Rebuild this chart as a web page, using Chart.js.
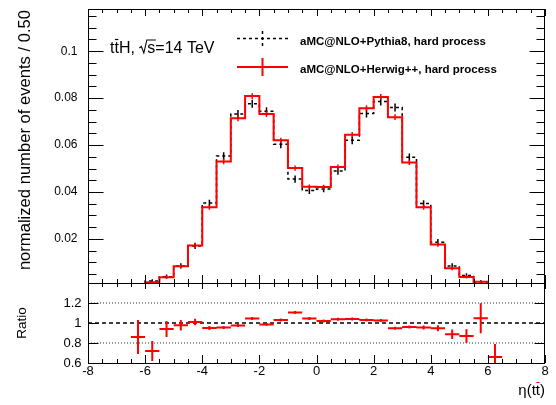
<!DOCTYPE html>
<html>
<head>
<meta charset="utf-8">
<script src="https://cdn.jsdelivr.net/npm/chart.js@4.4.0/dist/chart.umd.min.js"></script>
<style>
  html, body { margin: 0; padding: 0; background: #fff; }
  #wrap { position: relative; width: 556px; height: 405px; }
</style>
</head>
<body>
<div id="wrap"><canvas id="plot" width="556" height="405"></canvas></div>
<script>
// eta(ttbar) distribution, aMC@NLO + two showers, plus ratio
const binEdges = [-8, -7.5, -7, -6.5, -6, -5.5, -5, -4.5, -4, -3.5, -3, -2.5, -2, -1.5, -1, -0.5,
  0, 0.5, 1, 1.5, 2, 2.5, 3, 3.5, 4, 4.5, 5, 5.5, 6, 6.5, 7, 7.5, 8];

const herwig = [0, 0, 0, 0.0004, 0.0015, 0.0037, 0.0083, 0.0172, 0.0335, 0.0530, 0.0714, 0.0809,
  0.0732, 0.0620, 0.0502, 0.0422, 0.0421, 0.0506, 0.0644, 0.0757, 0.0805, 0.0719, 0.0526, 0.0335,
  0.0176, 0.0075, 0.0038, 0.0017, 0.0004, 0, 0, 0];
const herwigErr = [0, 0, 0, 0.0001, 0.0002, 0.0003, 0.0004, 0.0005, 0.0006, 0.0007, 0.0008, 0.0008,
  0.0008, 0.0007, 0.0007, 0.0006, 0.0006, 0.0007, 0.0007, 0.0008, 0.0008, 0.0008, 0.0007, 0.0006,
  0.0005, 0.0004, 0.0003, 0.0002, 0.0001, 0, 0, 0];

const pythia = [0, 0, 0, 0.0005, 0.0021, 0.0039, 0.0085, 0.0170, 0.0353, 0.0553, 0.0732, 0.0776,
  0.0744, 0.0603, 0.0455, 0.0406, 0.0413, 0.0489, 0.0620, 0.0735, 0.0786, 0.0760, 0.0548, 0.0351,
  0.0186, 0.0085, 0.0044, 0.0016, 0.0006, 0, 0, 0];
const pythiaErr = [0, 0, 0, 0.0002, 0.0003, 0.0005, 0.0007, 0.0009, 0.0010, 0.0012, 0.0013, 0.0013,
  0.0013, 0.0012, 0.0011, 0.0010, 0.0010, 0.0011, 0.0012, 0.0013, 0.0013, 0.0013, 0.0012, 0.0010,
  0.0009, 0.0007, 0.0005, 0.0003, 0.0002, 0, 0, 0];

const ratio = [null, null, null, 0.86, 0.72, 0.94, 0.977, 1.01, 0.95, 0.955, 0.975, 1.045,
  0.985, 1.03, 1.105, 1.045, 1.02, 1.037, 1.04, 1.03, 1.024, 0.947, 0.96, 0.955,
  0.947, 0.887, 0.87, 1.047, 0.66, null, null, null];
const ratioErr = [null, null, null, 0.17, 0.10, 0.08, 0.053, 0.033, 0.02, 0.015, 0.015, 0.015,
  0.015, 0.015, 0.015, 0.015, 0.015, 0.015, 0.015, 0.015, 0.015, 0.015, 0.015, 0.02,
  0.03, 0.047, 0.067, 0.15, 0.13, null, null, null];

const xTicks = [-8, -6, -4, -2, 0, 2, 4, 6, 8];
const yTicks = [0.02, 0.04, 0.06, 0.08, 0.1];
const ratioTicks = [0.6, 0.8, 1, 1.2];
const ratioGuides = [0.8, 1.2];

const FONT = "'Liberation Sans', Arial, Helvetica, sans-serif";
Chart.defaults.font.family = FONT;
Chart.defaults.color = "#000";

function histPoints(vals) {
  return binEdges.map((e, i) => ({ x: e, y: i < vals.length ? vals[i] : vals[vals.length - 1] }));
}

function hLine(v) {
  return [{ x: -8, y: v }, { x: 8, y: v }];
}

const datasets = [
  {
    label: "aMC@NLO+Herwig++, hard process",
    data: histPoints(herwig),
    yAxisID: "y",
    borderColor: "#ff0000",
    borderWidth: 2,
    stepped: "before",
    pointRadius: 0,
    fill: false,
    order: 0,
  },
  {
    label: "aMC@NLO+Pythia8, hard process",
    data: histPoints(pythia),
    yAxisID: "y",
    borderColor: "#000000",
    borderWidth: 1.5,
    borderDash: [3, 3],
    stepped: "before",
    pointRadius: 0,
    fill: false,
    order: 1,
  },
  {
    data: hLine(1),
    yAxisID: "yr",
    borderColor: "#000",
    borderWidth: 1.5,
    borderDash: [4, 3],
    pointRadius: 0,
    order: 2,
  },
];
ratioGuides.forEach((g) => {
  datasets.push({
    data: hLine(g),
    yAxisID: "yr",
    borderColor: "#333",
    borderWidth: 1,
    borderDash: [1, 2],
    pointRadius: 0,
    order: 3,
  });
});

function binCenter(i) {
  return (binEdges[i] + binEdges[i + 1]) / 2;
}

function noPad(axis) {
  axis.paddingTop = 0;
  axis.paddingBottom = 0;
}

// ROOT-like decorations: frames, inward ticks, error bars, texts
const rootStyle = {
  id: "rootStyle",
  afterDatasetsDraw(chart) {
    const { ctx } = chart;
    const xs = chart.scales.x, ys = chart.scales.y, yr = chart.scales.yr;

    // error bars on the histograms
    ctx.save();
    ctx.beginPath();
    ctx.rect(xs.left, ys.top, xs.right - xs.left, ys.bottom - ys.top);
    ctx.clip();
    const bars = (vals, errs, color, width) => {
      ctx.strokeStyle = color;
      ctx.lineWidth = width;
      ctx.beginPath();
      vals.forEach((v, i) => {
        if (!v) return;
        const px = xs.getPixelForValue(binCenter(i));
        ctx.moveTo(px, ys.getPixelForValue(v - errs[i]) + 1);
        ctx.lineTo(px, ys.getPixelForValue(v + errs[i]) - 1);
      });
      ctx.stroke();
    };
    bars(pythia, pythiaErr, "#000", 1.5);
    bars(herwig, herwigErr, "#ff0000", 1.5);
    ctx.restore();

    // ratio crosses
    ctx.save();
    ctx.beginPath();
    ctx.rect(xs.left, yr.top, xs.right - xs.left, yr.bottom - yr.top);
    ctx.clip();
    ctx.strokeStyle = "#ff0000";
    ctx.lineWidth = 2;
    ctx.beginPath();
    ratio.forEach((r, i) => {
      if (r === null) return;
      const py = yr.getPixelForValue(r);
      ctx.moveTo(xs.getPixelForValue(binEdges[i]), py);
      ctx.lineTo(xs.getPixelForValue(binEdges[i + 1]), py);
      const px = xs.getPixelForValue(binCenter(i));
      ctx.moveTo(px, yr.getPixelForValue(r - ratioErr[i]));
      ctx.lineTo(px, yr.getPixelForValue(r + ratioErr[i]));
    });
    ctx.stroke();
    ctx.restore();

    // frames and inward ticks
    ctx.save();
    ctx.strokeStyle = "#000";
    ctx.lineWidth = 1;
    const L = Math.round(xs.left) + 0.5, R = Math.round(xs.right) - 0.5;
    [ys, yr].forEach((s) => {
      ctx.strokeRect(L, Math.round(s.top) + 0.5, R - L, Math.round(s.bottom) - Math.round(s.top));
    });
    ctx.beginPath();
    const xTickRow = (yPix, dir, maj, min) => {
      binEdges.forEach((e) => {
        const px = Math.round(xs.getPixelForValue(e)) + 0.5;
        const len = xTicks.includes(e) ? maj : min;
        ctx.moveTo(px, yPix);
        ctx.lineTo(px, yPix + dir * len);
      });
    };
    xTickRow(ys.top, 1, 7, 4);
    xTickRow(ys.bottom, -1, 8, 4);
    xTickRow(yr.top, 1, 6, 4);
    xTickRow(yr.bottom, -1, 8, 4);
    const yTickCol = (scale, vals, len) => {
      vals.forEach((v) => {
        const py = Math.round(scale.getPixelForValue(v)) + 0.5;
        if (py < scale.top || py > scale.bottom) return;
        ctx.moveTo(L, py);
        ctx.lineTo(L + len, py);
        ctx.moveTo(R, py);
        ctx.lineTo(R - len, py);
      });
    };
    const yMinor = [];
    for (let k = 1; k <= 23; k++) yMinor.push(k * 0.005);
    yTickCol(ys, yMinor.filter((v) => !yTicks.some((t) => Math.abs(t - v) < 1e-9)), 8);
    yTickCol(ys, yTicks, 15);
    yTickCol(yr, ratioTicks, 10);
    ctx.stroke();
    ctx.restore();
  },
  afterDraw(chart) {
    const { ctx } = chart;
    const xs = chart.scales.x, ys = chart.scales.y, yr = chart.scales.yr;
    ctx.save();
    ctx.fillStyle = "#000";
    ctx.strokeStyle = "#000";

    // process label: t tbar H, sqrt(s)=14 TeV
    ctx.font = "16px " + FONT;
    ctx.textBaseline = "alphabetic";
    ctx.textAlign = "left";
    let tx = 110;
    const base = 53;
    const tw = ctx.measureText("t").width;
    ctx.fillText("tt", tx, base);
    ctx.lineWidth = 1.2;
    ctx.beginPath();
    ctx.moveTo(tx + tw + 0.5, base - 13.5);
    ctx.lineTo(tx + 2 * tw - 0.5, base - 13.5);
    ctx.stroke();
    tx += 2 * tw;
    ctx.fillText("H, ", tx, base);
    tx += ctx.measureText("H, ").width;
    // radical sign
    ctx.lineWidth = 1.1;
    ctx.beginPath();
    ctx.moveTo(tx, base - 5);
    ctx.lineTo(tx + 2, base - 6.5);
    ctx.lineTo(tx + 4.5, base);
    ctx.lineTo(tx + 7.5, base - 13);
    const sw = ctx.measureText("s").width;
    ctx.lineTo(tx + 8 + sw + 0.5, base - 13);
    ctx.stroke();
    tx += 8;
    ctx.fillText("s=14 TeV", tx, base);

    // legend
    ctx.lineWidth = 1.5;
    ctx.setLineDash([3, 3]);
    ctx.beginPath();
    ctx.moveTo(237, 38.5);
    ctx.lineTo(288, 38.5);
    ctx.moveTo(262.5, 31);
    ctx.lineTo(262.5, 46);
    ctx.stroke();
    ctx.setLineDash([]);
    ctx.strokeStyle = "#ff0000";
    ctx.lineWidth = 2;
    ctx.beginPath();
    ctx.moveTo(237, 67);
    ctx.lineTo(288, 67);
    ctx.moveTo(262.5, 58);
    ctx.lineTo(262.5, 76);
    ctx.stroke();
    ctx.font = "bold 11.5px " + FONT;
    ctx.fillText(datasets[1].label, 300, 45);
    ctx.fillText(datasets[0].label, 300, 73);

    // axis titles
    ctx.font = "16.6px " + FONT;
    ctx.save();
    ctx.translate(25, ys.top + 1);
    ctx.rotate(-Math.PI / 2);
    ctx.textAlign = "right";
    ctx.textBaseline = "middle";
    ctx.fillText("normalized number of events / 0.50", 0, 0);
    ctx.restore();

    ctx.font = "13.5px " + FONT;
    ctx.save();
    ctx.translate(22, (yr.top + yr.bottom) / 2);
    ctx.rotate(-Math.PI / 2);
    ctx.textAlign = "center";
    ctx.textBaseline = "middle";
    ctx.fillText("Ratio", 0, 0);
    ctx.restore();

    // x title: eta(t tbar)
    ctx.font = "15px " + FONT;
    ctx.textAlign = "left";
    ctx.textBaseline = "alphabetic";
    const eb = 395;
    const pieces = ["η(t", "t", ")"];
    const widths = pieces.map((p) => ctx.measureText(p).width);
    let ex = xs.right - widths[0] - widths[1] - widths[2];
    ctx.fillText(pieces[0], ex, eb);
    ex += widths[0];
    ctx.fillText(pieces[1], ex, eb);
    ctx.lineWidth = 1.1;
    ctx.beginPath();
    ctx.moveTo(ex + 0.5, eb - 12.5);
    ctx.lineTo(ex + widths[1] - 0.5, eb - 12.5);
    ctx.stroke();
    ex += widths[1];
    ctx.fillText(pieces[2], ex, eb);
    ctx.restore();
  },
};

new Chart(document.getElementById("plot").getContext("2d"), {
  type: "line",
  data: { datasets: datasets },
  options: {
    responsive: false,
    animation: false,
    events: [],
    layout: { padding: { left: 0, right: 11, top: 9, bottom: 0 } },
    plugins: { legend: { display: false }, tooltip: { enabled: false } },
    scales: {
      x: {
        type: "linear",
        min: -8,
        max: 8,
        afterBuildTicks: (axis) => { axis.ticks = xTicks.map((v) => ({ value: v })); },
        afterFit: (axis) => { axis.height = 42; },
        grid: { display: false, drawTicks: false },
        border: { display: false },
        ticks: { font: { size: 13 }, padding: 1, maxRotation: 0, autoSkip: false },
      },
      yr: {
        type: "linear",
        position: "left",
        stack: "panels",
        stackWeight: 80,
        min: 0.6,
        max: 1.4,
        afterBuildTicks: (axis) => { axis.ticks = ratioTicks.map((v) => ({ value: v })); },
        afterFit: (axis) => { axis.width = 88; noPad(axis); },
        grid: { display: false, drawTicks: false },
        border: { display: false },
        ticks: { font: { size: 13 }, padding: 6.5, autoSkip: false, callback: (v) => String(v) },
      },
      y: {
        type: "linear",
        position: "left",
        stack: "panels",
        stackWeight: 274,
        min: 0.0012,
        max: 0.118,
        afterBuildTicks: (axis) => { axis.ticks = yTicks.map((v) => ({ value: v })); },
        afterFit: (axis) => { axis.width = 88; noPad(axis); },
        grid: { display: false, drawTicks: false },
        border: { display: false },
        ticks: { font: { size: 12 }, padding: 10.5, autoSkip: false, callback: (v) => String(v) },
      },
    },
  },
  plugins: [rootStyle],
});
</script>
</body>
</html>
